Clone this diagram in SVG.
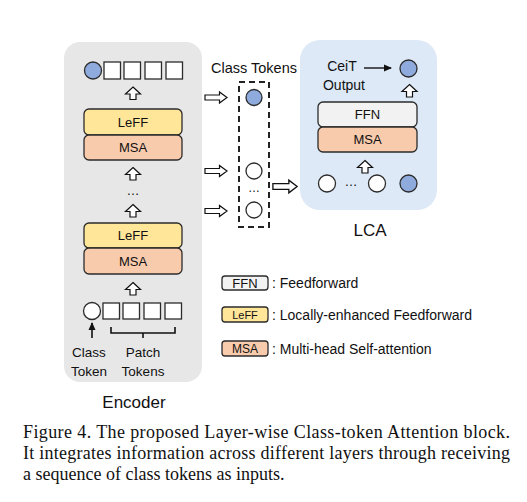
<svg xmlns="http://www.w3.org/2000/svg" width="527" height="502" viewBox="0 0 527 502">
<defs>
<style>
.sans{font-family:"Liberation Sans","Open Sans",Arial,sans-serif;fill:#111;}
.serif{font-family:"Liberation Serif","Times New Roman",serif;fill:#111;font-size:18px;}
.blk{stroke:#2b2b2b;stroke-width:1.3;}
.leff{fill:#ffe699;}
.msa{fill:#f8cbad;}
.ffn{fill:#f2f2f2;}
.blue{fill:#8faadc;stroke:#2b2b2b;stroke-width:1.3;}
.hollow{fill:#fff;stroke:#2b2b2b;stroke-width:1.3;}
.sq{fill:#fff;stroke:#2b2b2b;stroke-width:1.3;}
.barrow{fill:#fff;stroke:#111;stroke-width:1.2;stroke-linejoin:miter;}
.lbl{font-size:13px;text-anchor:middle;dominant-baseline:central;}
</style>
<path id="up" d="M0,-6.5 L7.5,0.5 L3,0.5 L3,6 L-3,6 L-3,0.5 L-7.5,0.5 Z"/>
<path id="right" d="M-11,-2.5 L3.5,-2.5 L3.5,-5.5 L11,0 L3.5,5.5 L3.5,2.5 L-11,2.5 Z"/>
<marker id="ah" markerWidth="8" markerHeight="8" refX="7" refY="4" orient="auto" markerUnits="userSpaceOnUse">
<path d="M0,0.5 L8,4 L0,7.5 Z" fill="#111"/>
</marker>
</defs>
<rect width="527" height="502" fill="#fff"/>

<g id="encoder">
<rect x="64" y="42" width="138" height="340" rx="16" fill="#e7e7e7"/>
<text class="sans" x="134" y="402" font-size="17" text-anchor="middle" dominant-baseline="central">Encoder</text>
</g>

<g id="encoder-top-tokens">
<circle class="blue" cx="93" cy="70.5" r="8.5"/>
<rect class="sq" x="104" y="62" width="16.5" height="17"/>
<rect class="sq" x="124" y="62" width="16.5" height="17"/>
<rect class="sq" x="145" y="62" width="16.5" height="17"/>
<rect class="sq" x="166" y="62" width="16.5" height="17"/>
</g>

<g id="leff-top">
<rect class="leff blk" x="84" y="109" width="98" height="26" rx="5"/>
<text class="sans lbl" x="133" y="122">LeFF</text>
</g>
<g id="msa-top">
<rect class="msa blk" x="84" y="135" width="98" height="25" rx="5"/>
<text class="sans lbl" x="133" y="147.5">MSA</text>
</g>

<g id="encoder-dots">
<text class="sans" x="133" y="190" font-size="13" text-anchor="middle" dominant-baseline="central">…</text>
</g>

<g id="leff-bottom">
<rect class="leff blk" x="84" y="223" width="98" height="25" rx="5"/>
<text class="sans lbl" x="133" y="235.5">LeFF</text>
</g>
<g id="msa-bottom">
<rect class="msa blk" x="84" y="248" width="98" height="26" rx="5"/>
<text class="sans lbl" x="133" y="261">MSA</text>
</g>

<g id="encoder-input-tokens">
<circle class="hollow" cx="92" cy="311" r="8.5"/>
<rect class="sq" x="103" y="303" width="16.5" height="16"/>
<rect class="sq" x="123" y="303" width="16.5" height="16"/>
<rect class="sq" x="144" y="303" width="16.5" height="16"/>
<rect class="sq" x="165" y="303" width="16.5" height="16"/>
</g>

<g id="class-token-label">
<text class="sans" x="89" y="352" font-size="13.5" text-anchor="middle" dominant-baseline="central">Class</text>
<text class="sans" x="89" y="371" font-size="13.5" text-anchor="middle" dominant-baseline="central">Token</text>
</g>
<g id="patch-tokens-label">
<path d="M111,327 L111,333 L175,333 L175,327 M143,333 L143,338" fill="none" stroke="#111" stroke-width="1.6"/>
<text class="sans" x="143" y="352" font-size="13.5" text-anchor="middle" dominant-baseline="central">Patch</text>
<text class="sans" x="143" y="371" font-size="13.5" text-anchor="middle" dominant-baseline="central">Tokens</text>
</g>

<g id="class-tokens">
<text class="sans" x="254" y="68" font-size="14.5" text-anchor="middle" dominant-baseline="central">Class Tokens</text>
<rect x="239" y="82" width="30" height="145" fill="none" stroke="#222" stroke-width="2" stroke-dasharray="6,4"/>
<circle class="blue" cx="254" cy="97.5" r="8"/>
<circle class="hollow" cx="254" cy="171" r="8"/>
<text class="sans" x="254" y="188" font-size="12" text-anchor="middle" dominant-baseline="central">…</text>
<circle class="hollow" cx="254" cy="210" r="8"/>
</g>

<g id="lca">
<rect x="300" y="40" width="137" height="170" rx="20" fill="#dde9f6"/>
<text class="sans" x="370" y="230" font-size="17" text-anchor="middle" dominant-baseline="central">LCA</text>
<text class="sans" x="342" y="66" font-size="14" text-anchor="middle" dominant-baseline="central">CeiT</text>
<text class="sans" x="344" y="85" font-size="14" text-anchor="middle" dominant-baseline="central">Output</text>
<circle class="blue" cx="408.5" cy="68.5" r="8.5"/>
<circle class="hollow" cx="327" cy="183.5" r="8.5"/>
<text class="sans" x="351" y="181" font-size="13" text-anchor="middle" dominant-baseline="central">…</text>
<circle class="hollow" cx="377" cy="183.5" r="8.5"/>
<circle class="blue" cx="408.5" cy="183.5" r="8.5"/>
</g>
<g id="ffn">
<rect class="ffn blk" x="318" y="102" width="99" height="25" rx="5"/>
<text class="sans lbl" x="367.5" y="114.5">FFN</text>
</g>
<g id="msa-lca">
<rect class="msa blk" x="318" y="127" width="99" height="25" rx="5"/>
<text class="sans lbl" x="367.5" y="139.5">MSA</text>
</g>

<g id="legend">
<rect class="ffn blk" x="222" y="276" width="46" height="14" rx="3"/>
<text class="sans" x="245" y="283" font-size="13" text-anchor="middle" dominant-baseline="central">FFN</text>
<text class="sans" x="272" y="283" font-size="14" dominant-baseline="central">: Feedforward</text>
<rect class="leff blk" x="222" y="307" width="46" height="15" rx="3"/>
<text class="sans" x="245" y="314.5" font-size="11" text-anchor="middle" dominant-baseline="central">LeFF</text>
<text class="sans" x="272" y="314.5" font-size="14" dominant-baseline="central">: Locally-enhanced Feedforward</text>
<rect class="msa blk" x="222" y="341" width="46" height="15" rx="3"/>
<text class="sans" x="245" y="348.5" font-size="12" text-anchor="middle" dominant-baseline="central">MSA</text>
<text class="sans" x="272" y="348.5" font-size="14" dominant-baseline="central">: Multi-head Self-attention</text>
</g>

<g id="connectors">
<use href="#up" class="barrow" x="133" y="93.5"/>
<use href="#up" class="barrow" x="133" y="174"/>
<use href="#up" class="barrow" x="133" y="211"/>
<use href="#up" class="barrow" x="133" y="289"/>
<use href="#right" class="barrow" x="216" y="97.5"/>
<use href="#right" class="barrow" x="216" y="171"/>
<use href="#right" class="barrow" x="216" y="211"/>
<use href="#right" class="barrow" transform="translate(285,186.5) scale(1.1,1.15)"/>
<use href="#up" class="barrow" x="365" y="167"/>
<use href="#up" class="barrow" x="409.5" y="91"/>
<line x1="364" y1="68" x2="391" y2="68" stroke="#111" stroke-width="1.4" marker-end="url(#ah)"/>
<line x1="92" y1="338" x2="92" y2="323" stroke="#111" stroke-width="1.6" marker-end="url(#ah)"/>
</g>

<g id="caption">
<text class="serif" x="23" y="438" textLength="487" lengthAdjust="spacing">Figure 4. The proposed Layer-wise Class-token Attention block.</text>
<text class="serif" x="23" y="459" textLength="487" lengthAdjust="spacing">It integrates information across different layers through receiving</text>
<text class="serif" x="23" y="480">a sequence of class tokens as inputs.</text>
</g>
</svg>
